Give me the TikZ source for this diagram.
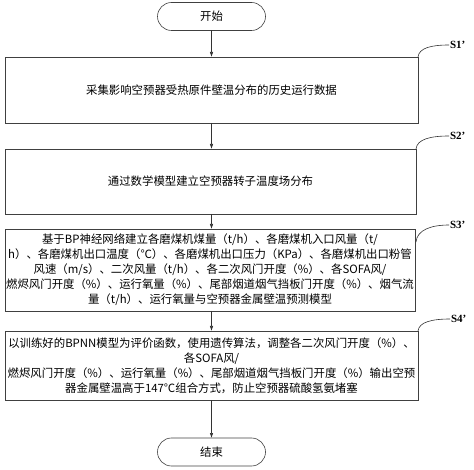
\documentclass[tikz,border=0pt]{standalone}
\usepackage{fontspec}
\setmainfont{Noto Sans CJK SC}
\newfontfamily\labfont{Liberation Serif}
\usetikzlibrary{arrows.meta,shapes.misc}
\begin{document}
\begin{tikzpicture}[x=1pt,y=-1pt,
  every node/.style={inner sep=0pt,outer sep=0pt},
  box/.style={draw=black!75,line width=0.6pt,rectangle,align=center,
    font=\fontsize{11.4}{15}\selectfont},
  term/.style={draw=black!75,line width=0.6pt,rounded rectangle,
    minimum width=108pt,minimum height=28pt,font=\fontsize{11.4}{14}\selectfont},
  arr/.style={draw=black!80,line width=0.6pt,-{Latex[length=5pt,width=3.5pt]}},
  lead/.style={draw=black!80,line width=0.6pt},
  lab/.style={anchor=west,font=\labfont\bfseries\fontsize{11}{12}\selectfont,inner sep=1pt}]
\useasboundingbox (0,0) rectangle (474,470);
\node[term] (st) at (211.5,16.5) {开始};
\node[box,minimum width=413pt,minimum height=66pt] (b1) at (211.5,90)
  {采集影响空预器受热原件壁温分布的历史运行数据};
\node[box,minimum width=411pt,minimum height=65pt] (b2) at (210.5,181.5)
  {通过数学模型建立空预器转子温度场分布};
\node[box,minimum width=410pt,minimum height=82pt] (b3) at (210,270)
  {基于BP神经网络建立各磨煤机煤量（t/h）、各磨煤机入口风量（t/\\
   h）、各磨煤机出口温度（℃）、各磨煤机出口压力（KPa）、各磨煤机出口粉管\\
   风速（m/s）、二次风量（t/h）、各二次风门开度（\%）、各SOFA风/\\
   燃烬风门开度（\%）、运行氧量（\%）、尾部烟道烟气挡板门开度（\%）、烟气流\\
   量（t/h）、运行氧量与空预器金属壁温预测模型};
\node[box,minimum width=413pt,minimum height=69pt] (b4) at (211.5,365.5)
  {以训练好的BPNN模型为评价函数，使用遗传算法，调整各二次风门开度（\%）、\\
   各SOFA风/\\
   燃烬风门开度（\%）、运行氧量（\%）、尾部烟道烟气挡板门开度（\%）输出空预\\
   器金属壁温高于147℃组合方式，防止空预器硫酸氢氨堵塞};
\node[term] (en) at (211.5,452) {结束};
\draw[arr] (st.south) -- (b1.north -| st.south);
\draw[arr] (b1.south -| st.south) -- (b2.north -| st.south);
\draw[arr] (b2.south -| st.south) -- (b3.north -| st.south);
\draw[arr] (b3.south -| st.south) -- (b4.north -| st.south);
\draw[arr] (b4.south -| st.south) -- (en.north);
\node[lab] (s1) at (449,45) {S1’};
\node[lab] (s2) at (449,136) {S2’};
\node[lab] (s3) at (449,225) {S3’};
\node[lab] (s4) at (450,319) {S4’};
\coordinate (c3) at (416,242);
\draw[lead] (b1.north east) .. controls +(1,-9) and +(-18,0) .. (s1.west);
\draw[lead] (b2.north east) .. controls +(1,-10) and +(-18,0) .. (s2.west);
\draw[lead] (c3) .. controls +(1,-12) and +(-18,0) .. (s3.west);
\draw[lead] (b4.north east) .. controls +(1,-9) and +(-18,0) .. (s4.west);
\end{tikzpicture}
\end{document}
